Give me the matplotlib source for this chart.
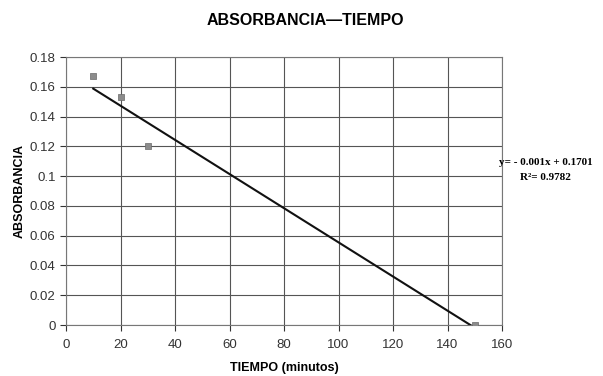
import numpy as np
import matplotlib
matplotlib.use("Agg")
import matplotlib.pyplot as plt

plt.rcParams['font.family'] = ['Liberation Sans', 'DejaVu Sans']

tiempo = [10, 20, 30, 150]
absorbancia = [0.167, 0.153, 0.120, 0.0]
xticks = [0, 20, 40, 60, 80, 100, 120, 140, 160]
yticks = [0, 0.02, 0.04, 0.06, 0.08, 0.1, 0.12, 0.14, 0.16, 0.18]
ytick_labels = ["0", "0.02", "0.04", "0.06", "0.08", "0.1", "0.12", "0.14", "0.16", "0.18"]

fig = plt.figure(figsize=(6.03, 3.76), dpi=100)
ax = fig.add_axes([66 / 603, 1 - 325 / 376, (502 - 66) / 603, (325 - 57) / 376])

# trend line from a linear fit of the points
m, b = np.polyfit(tiempo, absorbancia, 1)
xl = np.array([min(tiempo), max(tiempo)])
ax.plot(xl, m * xl + b, color="#111111", lw=1.5, zorder=3)
ax.scatter(tiempo, absorbancia, marker="s", s=14, color="#8c8c8c",
           edgecolors="#6a6a6a", linewidths=0.5, zorder=4)

ax.set_xlim(0, 160)
ax.set_ylim(0, 0.18)
ax.set_xticks(xticks)
ax.set_yticks(yticks)
ax.set_yticklabels(ytick_labels)
ax.grid(True, color="#555555", lw=0.8)
ax.set_axisbelow(True)
for s in ax.spines.values():
    s.set_color("#777777")
    s.set_linewidth(0.8)
ax.tick_params(labelsize=9.5, colors="#333333", length=4, width=0.8)
ax.tick_params(axis="x", pad=6)

ax.set_xlabel("TIEMPO (minutos)", fontsize=9, fontweight="bold", labelpad=8)
ax.set_ylabel("ABSORBANCIA", fontsize=9, fontweight="bold", labelpad=3)
fig.text(0.506, 0.946, "ABSORBANCIA\u2014TIEMPO", ha="center", va="center",
         fontsize=11.5, fontweight="bold")

fig.text(0.905, 0.567, "y= - 0.001x + 0.1701", ha="center", va="center",
         fontsize=8, fontweight="bold", family="Liberation Serif")
fig.text(0.905, 0.527, "R\u00b2= 0.9782", ha="center", va="center",
         fontsize=8, fontweight="bold", family="Liberation Serif")

fig.savefig("out.png", dpi=100)
